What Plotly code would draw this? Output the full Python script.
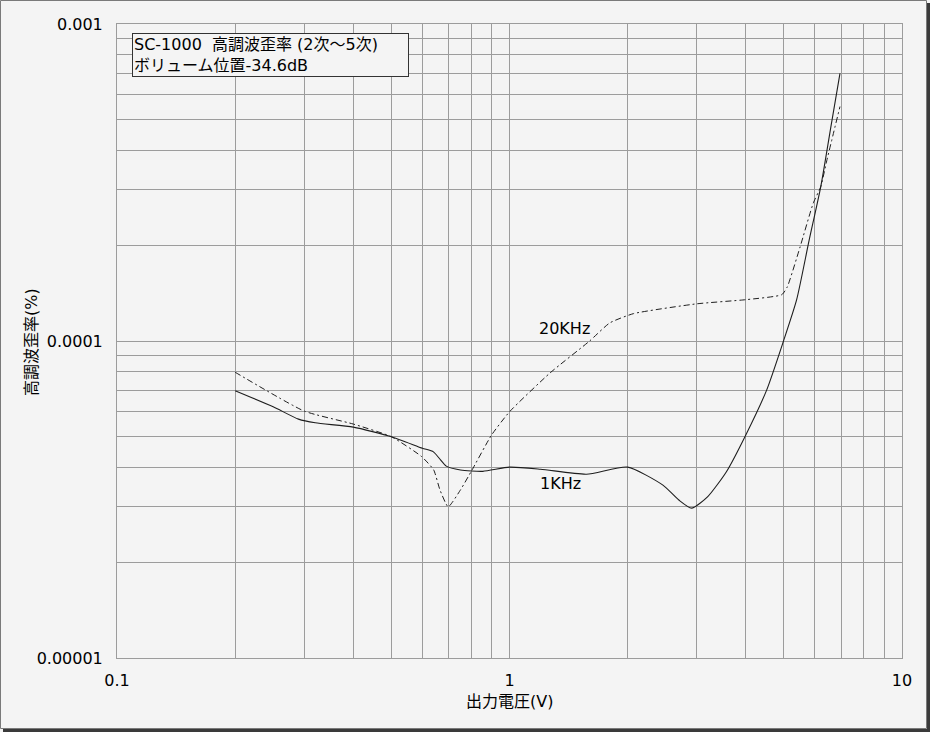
import plotly.graph_objects as go

# ---- data ----
volts_1k = [0.2, 0.25, 0.29, 0.32, 0.4, 0.5, 0.6, 0.64, 0.667, 0.69, 0.75, 0.855, 1.0, 1.2, 1.57, 2.0,
            2.46, 2.7, 2.91, 3.2, 3.57, 3.98, 4.52, 4.99, 5.39, 5.8, 6.21, 6.6, 6.95]
thd_1k = [6.97e-5, 6.2e-5, 5.67e-5, 5.52e-5, 5.35e-5, 4.99e-5, 4.59e-5, 4.47e-5, 4.22e-5, 4.03e-5, 3.92e-5,
          3.88e-5, 4.0e-5, 3.94e-5, 3.8e-5, 4.0e-5, 3.51e-5, 3.15e-5, 2.97e-5, 3.23e-5, 3.87e-5, 4.99e-5,
          7.0e-5, 1.0e-4, 1.35e-4, 2.08e-4, 3.07e-4, 4.8e-4, 6.99e-4]

volts_20k = [0.2, 0.3, 0.4, 0.5, 0.597, 0.641, 0.665, 0.698, 0.75, 0.801, 0.9, 1.0, 1.27, 1.6, 1.8, 2.07,
             3.0, 4.0, 4.94, 5.1, 5.5, 5.94, 6.21, 6.43, 6.95]
thd_20k = [7.97e-5, 6.01e-5, 5.47e-5, 4.99e-5, 4.32e-5, 3.92e-5, 3.39e-5, 3.0e-5, 3.39e-5, 3.9e-5, 5.05e-5,
           5.98e-5, 7.94e-5, 1.0e-4, 1.14e-4, 1.22e-4, 1.31e-4, 1.35e-4, 1.4e-4, 1.48e-4, 1.98e-4, 2.72e-4,
           3.07e-4, 3.7e-4, 5.49e-4]

x_tickvals = [0.1, 0.2, 0.3, 0.4, 0.5, 0.6, 0.7, 0.8, 0.9, 1, 2, 3, 4, 5, 6, 7, 8, 9, 10]
x_ticktext = ["0.1", "", "", "", "", "", "", "", "", "1", "", "", "", "", "", "", "", "", "10"]
y_tickvals = [1e-5, 2e-5, 3e-5, 4e-5, 5e-5, 6e-5, 7e-5, 8e-5, 9e-5, 1e-4, 2e-4, 3e-4, 4e-4, 5e-4,
              6e-4, 7e-4, 8e-4, 9e-4, 1e-3]
y_ticktext = ["0.00001", "", "", "", "", "", "", "", "", "0.0001", "", "", "", "", "", "", "", "", "0.001"]

title_lines = ["SC-1000  高調波歪率 (2次～5次)", "ボリューム位置-34.6dB"]
label_1k = "1KHz"
label_20k = "20KHz"
x_title = "出力電圧(V)"
y_title = "高調波歪率(%)"

FONT = "DejaVu Sans, Verdana, Noto Sans CJK JP, sans-serif"
BG = "#f4f4f4"
GRID = "#9c9c9c"
INK = "#1e1e1e"

W, H = 930, 732
L, R, T, B = 117, 28, 24, 74
PW, PH = W - L - R, H - T - B


def px(xp):
    return (xp - L) / PW


def py(yp):
    return (H - B - yp) / PH


fig = go.Figure()
fig.add_trace(go.Scatter(x=volts_1k, y=thd_1k, mode="lines", name=label_1k,
                         line=dict(color=INK, width=1.1, shape="spline", smoothing=0.6)))
fig.add_trace(go.Scatter(x=volts_20k, y=thd_20k, mode="lines", name=label_20k,
                         line=dict(color=INK, width=1, dash="6px,3px,2px,3px", shape="spline", smoothing=0.5)))

axis_common = dict(showgrid=True, gridcolor=GRID, gridwidth=1, showline=True, linecolor=GRID, linewidth=1,
                   mirror=True, ticks="", zeroline=False, tickfont=dict(family=FONT, size=16, color="#000"))
fig.update_xaxes(type="log", range=[-1, 1], tickmode="array", tickvals=x_tickvals, ticktext=x_ticktext,
                 ticklabelstandoff=8, **axis_common)
fig.update_yaxes(type="log", range=[-5, -3], tickmode="array", tickvals=y_tickvals, ticktext=y_ticktext,
                 ticklabelstandoff=10, **axis_common)

annotations = [
    dict(xref="paper", yref="paper", x=px(132), y=py(33), xanchor="left", yanchor="top",
         text="<br>".join(title_lines), align="left", showarrow=False, width=273,
         font=dict(family=FONT, size=16, color="#000"), bgcolor=BG, bordercolor="#333", borderwidth=1,
         borderpad=1),
    dict(x=0.139, y=-3.959, text=label_20k, showarrow=False, xanchor="center", yanchor="middle",
         font=dict(family=FONT, size=16, color="#000")),
    dict(x=0.131, y=-4.448, text=label_1k, showarrow=False, xanchor="center", yanchor="middle",
         font=dict(family=FONT, size=16, color="#000")),
    dict(xref="paper", yref="paper", x=0.5, y=py(701), text=x_title, showarrow=False,
         xanchor="center", yanchor="middle", font=dict(family=FONT, size=16, color="#000")),
    dict(xref="paper", yref="paper", x=px(31), y=py(342), text=y_title, showarrow=False, textangle=-90,
         xanchor="center", yanchor="middle", font=dict(family=FONT, size=16, color="#000")),
]

shapes = [
    dict(type="rect", xref="paper", yref="paper", x0=px(0.5), x1=px(926.5), y0=py(728.5), y1=py(0.5),
         line=dict(color="#7a7a7a", width=1), fillcolor="rgba(0,0,0,0)", layer="below"),
    dict(type="rect", xref="paper", yref="paper", x0=px(927), x1=px(930), y0=py(732), y1=py(3),
         line=dict(width=0), fillcolor="#3a3a3a", layer="below"),
    dict(type="rect", xref="paper", yref="paper", x0=px(3), x1=px(930), y0=py(732), y1=py(729),
         line=dict(width=0), fillcolor="#3a3a3a", layer="below"),
]

fig.update_layout(width=W, height=H, margin=dict(l=L, r=R, t=T, b=B, autoexpand=False),
                  paper_bgcolor=BG, plot_bgcolor=BG, showlegend=False,
                  annotations=annotations, shapes=shapes, font=dict(family=FONT))

fig.write_html("out.html", config={"displayModeBar": False},
               post_script="document.body.style.margin='0';document.body.style.overflow='hidden';")
